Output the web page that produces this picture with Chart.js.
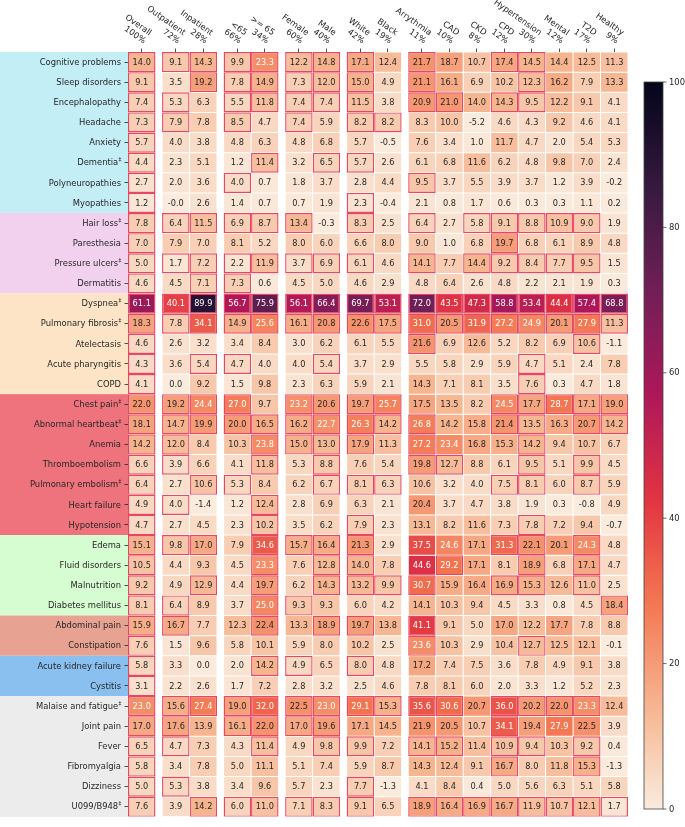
<!DOCTYPE html>
<html>
<head>
<meta charset="utf-8">
<script src="https://cdn.jsdelivr.net/npm/chart.js@4.4.1/dist/chart.umd.min.js"></script>
<style>
  html, body { margin: 0; padding: 0; background: #fff; }
</style>
</head>
<body>
<canvas id="heat" width="685" height="827"></canvas>
<script>
// ── Columns ───────────────────────────────────────────────
const columns = ["Overall", "Outpatient", "Inpatient", "<65", ">= 65", "Female", "Male",
  "White", "Black", "Arrythmia", "CAD", "CKD", "CPD", "Hypertension", "Mental", "T2D", "Healthy"];
const shares = ["100%", "72%", "28%", "66%", "34%", "60%", "40%", "42%", "19%",
  "11%", "10%", "8%", "12%", "30%", "12%", "17%", "9%"];
const columnGroups = [1, 2, 2, 2, 2, 8];

// ── Rows, by symptom group (values per row follow the column order) ──
const neuroLabels = ["Cognitive problems", "Sleep disorders", "Encephalopathy", "Headache",
  "Anxiety", "Dementia‡", "Polyneuropathies", "Myopathies"];
const neuroValues = [
  [14.0, 9.1, 14.3, 9.9, 23.3, 12.2, 14.8, 17.1, 12.4, 21.7, 18.7, 10.7, 17.4, 14.5, 14.4, 12.5, 11.3],
  [9.1, 3.5, 19.2, 7.8, 14.9, 7.3, 12.0, 15.0, 4.9, 21.1, 16.1, 6.9, 10.2, 12.3, 16.2, 7.9, 13.3],
  [7.4, 5.3, 6.3, 5.5, 11.8, 7.4, 7.4, 11.5, 3.8, 20.9, 21.0, 14.0, 14.3, 9.5, 12.2, 9.1, 4.1],
  [7.3, 7.9, 7.8, 8.5, 4.7, 7.4, 5.9, 8.2, 8.2, 8.3, 10.0, -5.2, 4.6, 4.3, 9.2, 4.6, 4.1],
  [5.7, 4.0, 3.8, 4.8, 6.3, 4.8, 6.8, 5.7, -0.5, 7.6, 3.4, 1.0, 11.7, 4.7, 2.0, 5.4, 5.3],
  [4.4, 2.3, 5.1, 1.2, 11.4, 3.2, 6.5, 5.7, 2.6, 6.1, 6.8, 11.6, 6.2, 4.8, 9.8, 7.0, 2.4],
  [2.7, 2.0, 3.6, 4.0, 0.7, 1.8, 3.7, 2.8, 4.4, 9.5, 3.7, 5.5, 3.9, 3.7, 1.2, 3.9, -0.2],
  [1.2, -0.0, 2.6, 1.4, 0.7, 0.7, 1.9, 2.3, -0.4, 2.1, 0.8, 1.7, 0.6, 0.3, 0.3, 1.1, 0.2],
];
const neuroSig = ["11111111010011000", "10111111010001000", "11011111011011000", "11010101100000000",
  "10000000000000000", "10001011000000000", "10010000010000000", "10000001000000000"];

const skinLabels = ["Hair loss‡", "Paresthesia", "Pressure ulcers‡", "Dermatitis"];
const skinValues = [
  [7.8, 6.4, 11.5, 6.9, 8.7, 13.4, -0.3, 8.3, 2.5, 6.4, 2.7, 5.8, 9.1, 8.8, 10.9, 9.0, 1.9],
  [7.0, 7.9, 7.0, 8.1, 5.2, 8.0, 6.0, 6.6, 8.0, 9.0, 1.0, 6.8, 19.7, 6.8, 6.1, 8.9, 4.8],
  [5.0, 1.7, 7.2, 2.2, 11.9, 3.7, 6.9, 6.1, 4.6, 14.1, 7.7, 14.4, 9.2, 8.4, 7.7, 9.5, 1.5],
  [4.6, 4.5, 7.1, 7.3, 0.6, 4.5, 5.0, 4.6, 2.9, 4.8, 6.4, 2.6, 4.8, 2.2, 2.1, 1.9, 0.3],
];
const skinSig = ["11111101010111110", "10000000000010000", "11111111010111110", "10110000000000000"];

const respLabels = ["Dyspnea‡", "Pulmonary fibrosis‡", "Atelectasis", "Acute pharyngitis", "COPD"];
const respValues = [
  [61.1, 40.1, 89.9, 56.7, 75.9, 56.1, 66.4, 69.7, 53.1, 72.0, 43.5, 47.3, 58.8, 53.4, 44.4, 57.4, 68.8],
  [18.3, 7.8, 34.1, 14.9, 25.6, 16.1, 20.8, 22.6, 17.5, 31.0, 20.5, 31.9, 27.2, 24.9, 20.1, 27.9, 11.3],
  [4.6, 2.6, 3.2, 3.4, 8.4, 3.0, 6.2, 6.1, 5.5, 21.6, 6.9, 12.6, 5.2, 8.2, 6.9, 10.6, -1.1],
  [4.3, 3.6, 5.4, 4.7, 4.0, 4.0, 5.4, 3.7, 2.9, 5.5, 5.8, 2.9, 5.9, 4.7, 5.1, 2.4, 7.8],
  [4.1, 0.0, 9.2, 1.5, 9.8, 2.3, 6.3, 5.9, 2.1, 14.3, 7.1, 8.1, 3.5, 7.6, 0.3, 4.7, 1.8],
];
const respSig = ["11111111111111111", "11111111111111111", "10000000010000010",
  "10110010000001000", "10000000000001000"];

const cardioLabels = ["Chest pain‡", "Abnormal heartbeat‡", "Anemia", "Thromboembolism",
  "Pulmonary embolism‡", "Heart failure", "Hypotension"];
const cardioValues = [
  [22.0, 19.2, 24.4, 27.0, 9.7, 23.2, 20.6, 19.7, 25.7, 17.5, 13.5, 8.2, 24.5, 17.7, 28.7, 17.1, 19.0],
  [18.1, 14.7, 19.9, 20.0, 16.5, 16.2, 22.7, 26.3, 14.2, 26.8, 14.2, 15.8, 21.4, 13.5, 16.3, 20.7, 14.2],
  [14.2, 12.0, 8.4, 10.3, 23.8, 15.0, 13.0, 17.9, 11.3, 27.2, 23.4, 16.8, 15.3, 14.2, 9.4, 10.7, 6.7],
  [6.6, 3.9, 6.6, 4.1, 11.8, 5.3, 8.8, 7.6, 5.4, 19.8, 12.7, 8.8, 6.1, 9.5, 5.1, 9.9, 4.5],
  [6.4, 2.7, 10.6, 5.3, 8.4, 6.2, 6.7, 8.1, 6.3, 10.6, 3.2, 4.0, 7.5, 8.1, 6.0, 8.7, 5.9],
  [4.9, 4.0, -1.4, 1.2, 12.4, 2.8, 6.9, 6.3, 2.1, 20.4, 3.7, 4.7, 3.8, 1.9, 0.3, -0.8, 4.9],
  [4.7, 2.7, 4.5, 2.3, 10.2, 3.5, 6.2, 7.9, 2.3, 13.1, 8.2, 11.6, 7.3, 7.8, 7.2, 9.4, -0.7],
];
const cardioSig = ["11110111100011111", "11111111110011011", "11001111010001000", "11001010011001010",
  "10110011100011010", "11001000000000000", "10001001000001000"];

const fluidLabels = ["Edema", "Fluid disorders", "Malnutrition", "Diabetes mellitus"];
const fluidValues = [
  [15.1, 9.8, 17.0, 7.9, 34.6, 15.7, 16.4, 21.3, 2.9, 37.5, 24.6, 17.1, 31.3, 22.1, 20.1, 24.3, 4.8],
  [10.5, 4.4, 9.3, 4.5, 23.3, 7.6, 12.8, 14.0, 7.8, 44.6, 29.2, 17.1, 8.1, 18.9, 6.8, 17.1, 4.7],
  [9.2, 4.9, 12.9, 4.4, 19.7, 6.2, 14.3, 13.2, 9.9, 30.7, 15.9, 16.4, 16.9, 15.3, 12.6, 11.0, 2.5],
  [8.1, 6.4, 8.9, 3.7, 25.0, 9.3, 9.3, 6.0, 4.2, 14.1, 10.3, 9.4, 4.5, 3.3, 0.8, 4.5, 18.4],
];
const fluidSig = ["11101111000011010", "10001011001001010", "10101011110011010", "11001100000000001"];

const gastroLabels = ["Abdominal pain", "Constipation"];
const gastroValues = [
  [15.9, 16.7, 7.7, 12.3, 22.4, 13.3, 18.9, 19.7, 13.8, 41.1, 9.1, 5.0, 17.0, 12.2, 17.7, 7.8, 8.8],
  [7.6, 1.5, 9.6, 5.8, 10.1, 5.9, 8.0, 10.2, 2.5, 23.6, 10.3, 2.9, 10.4, 12.7, 12.5, 12.1, -0.1],
];
const gastroSig = ["11001011010000000", "10000000010001000"];

const renalLabels = ["Acute kidney failure", "Cystitis"];
const renalValues = [
  [5.8, 3.3, 0.0, 2.0, 14.2, 4.9, 6.5, 8.0, 4.8, 17.2, 7.4, 7.5, 3.6, 7.8, 4.9, 9.1, 3.8],
  [3.1, 2.2, 2.6, 1.7, 7.2, 2.8, 3.2, 2.5, 4.6, 7.8, 8.1, 6.0, 2.0, 3.3, 1.2, 5.2, 2.3],
];
const renalSig = ["10001101000000000", "10000000000000000"];

const generalLabels = ["Malaise and fatigue‡", "Joint pain", "Fever", "Fibromyalgia", "Dizziness", "U099/B948‡"];
const generalValues = [
  [23.0, 15.6, 27.4, 19.0, 32.0, 22.5, 23.0, 29.1, 15.3, 35.6, 30.6, 20.7, 36.0, 20.2, 22.0, 23.3, 12.4],
  [17.0, 17.6, 13.9, 16.1, 22.0, 17.0, 19.6, 17.1, 14.5, 21.9, 20.5, 10.7, 34.1, 19.4, 27.9, 22.5, 3.9],
  [6.5, 4.7, 7.3, 4.3, 11.4, 4.9, 9.8, 9.9, 7.2, 14.1, 15.2, 11.4, 10.9, 9.4, 10.3, 9.2, 0.4],
  [5.8, 3.4, 7.8, 5.0, 11.1, 5.1, 7.4, 5.9, 8.7, 14.3, 12.4, 9.1, 16.7, 8.0, 11.8, 15.3, -1.3],
  [5.0, 5.3, 3.8, 3.4, 9.6, 5.7, 2.3, 7.7, -1.3, 4.1, 8.4, 0.4, 5.0, 5.6, 6.3, 5.1, 5.8],
  [7.6, 3.9, 14.2, 6.0, 11.0, 7.1, 8.3, 9.1, 6.5, 18.9, 16.4, 16.9, 16.7, 11.9, 10.7, 12.1, 1.7],
];
const generalSig = ["11111111111011110", "11011110000010000", "11001011011011010",
  "10000000000010010", "11000001000000000", "10111111011111111"];

const colorbarTicks = [0, 20, 40, 60, 80, 100];

// ── Styling ───────────────────────────────────────────────
const TEXT = "#262626";
const FONT = '"DejaVu Sans", sans-serif';
const SIG_COLOR = "rgba(228, 38, 72, 0.85)";
const GAP = 0.24; // gap between column groups, in cell widths

const rowGroups = [
  { labels: neuroLabels, values: neuroValues, sig: neuroSig, color: "#c4eef6" },
  { labels: skinLabels, values: skinValues, sig: skinSig, color: "#f2d1ee" },
  { labels: respLabels, values: respValues, sig: respSig, color: "#fee4c6" },
  { labels: cardioLabels, values: cardioValues, sig: cardioSig, color: "#ee737d" },
  { labels: fluidLabels, values: fluidValues, sig: fluidSig, color: "#d6fdd1" },
  { labels: gastroLabels, values: gastroValues, sig: gastroSig, color: "#e8a292" },
  { labels: renalLabels, values: renalValues, sig: renalSig, color: "#89c0ef" },
  { labels: generalLabels, values: generalValues, sig: generalSig, color: "#ececec" },
];
const rowLabels = rowGroups.flatMap((g) => g.labels);
const values = rowGroups.flatMap((g) => g.values);
const sig = rowGroups.flatMap((g) => g.sig);

// column offsets on the linear x scale
const colStart = [];
(function () {
  let x = 0;
  columnGroups.forEach((n, g) => {
    if (g) x += GAP;
    for (let k = 0; k < n; k++) { colStart.push(x); x += 1; }
  });
})();
const xMax = colStart[colStart.length - 1] + 1;

// rocket_r, 0..100
const ROCKET_R = [
  [0, [250, 235, 221]], [1 / 7, [246, 180, 143]], [2 / 7, [243, 118, 81]], [3 / 7, [225, 51, 66]],
  [4 / 7, [173, 23, 89]], [5 / 7, [112, 31, 87]], [6 / 7, [53, 25, 62]], [1, [3, 5, 26]],
];
function rocketR(v) {
  const t = Math.min(1, Math.max(0, v / 100));
  for (let i = 1; i < ROCKET_R.length; i++) {
    const [t1, c1] = ROCKET_R[i];
    const [t0, c0] = ROCKET_R[i - 1];
    if (t <= t1) {
      const f = (t - t0) / (t1 - t0);
      const c = c0.map((a, k) => Math.round(a + (c1[k] - a) * f));
      return `rgb(${c[0]},${c[1]},${c[2]})`;
    }
  }
  return "rgb(3,5,26)";
}
const fmt = (v) => (Object.is(v, -0) ? "-0.0" : v.toFixed(1));

// ── Plugins ───────────────────────────────────────────────
const bandsAndLabels = {
  id: "bandsAndLabels",
  beforeDraw(chart) {
    const { ctx, scales: { y }, chartArea } = chart;
    const half = (y.getPixelForValue(1) - y.getPixelForValue(0)) / 2;
    let i = 0;
    ctx.save();
    rowGroups.forEach((g) => {
      const top = y.getPixelForValue(i) - half;
      const bottom = y.getPixelForValue(i + g.labels.length - 1) + half;
      ctx.fillStyle = g.color;
      ctx.fillRect(0, top, chartArea.left, bottom - top);
      i += g.labels.length;
    });
    ctx.restore();
  },
  afterDraw(chart) {
    const { ctx, scales: { y }, chartArea } = chart;
    const right = chartArea.left - 7;
    ctx.save();
    ctx.fillStyle = TEXT;
    ctx.textBaseline = "middle";
    rowLabels.forEach((label, i) => {
      const py = y.getPixelForValue(i);
      const dagger = label.endsWith("‡");
      const text = dagger ? label.slice(0, -1) : label;
      let end = right;
      if (dagger) {
        ctx.font = "5.6px " + FONT;
        ctx.textAlign = "left";
        const w = ctx.measureText("‡").width;
        end = right - w;
        ctx.fillText("‡", end + 0.3, py - 3);
      }
      ctx.font = "8.4px " + FONT;
      ctx.textAlign = "right";
      ctx.fillText(text, end, py + 0.5);
    });
    ctx.restore();
  },
};

const header = {
  id: "header",
  afterDraw(chart) {
    const { ctx, scales: { x }, chartArea } = chart;
    ctx.save();
    ctx.font = "8.4px " + FONT;
    ctx.fillStyle = TEXT;
    ctx.textAlign = "right";
    ctx.textBaseline = "middle";
    columns.forEach((name, c) => {
      const px = x.getPixelForValue(colStart[c] + 0.5);
      ctx.save();
      ctx.translate(px + 3, chartArea.top - 10);
      ctx.rotate((35 * Math.PI) / 180);
      ctx.fillText(shares[c], 0, 0);
      ctx.fillText(name, 0, -10);
      ctx.restore();
    });
    ctx.restore();
  },
};

const cellText = {
  id: "cellText",
  afterDatasetsDraw(chart) {
    const { ctx } = chart;
    ctx.save();
    ctx.font = "8.2px " + FONT;
    ctx.textAlign = "center";
    ctx.textBaseline = "middle";
    chart.data.datasets.forEach((ds, c) => {
      chart.getDatasetMeta(c).data.forEach((bar, r) => {
        const { x, base, y } = bar.getProps(["x", "base", "y"], true);
        const v = values[r][c];
        ctx.fillStyle = v >= 22.65 ? "#ffffff" : TEXT;
        ctx.fillText(fmt(v), (x + base) / 2, y + 0.5);
      });
    });
    ctx.restore();
  },
};

const colorbar = {
  id: "colorbar",
  afterDraw(chart) {
    const { ctx } = chart;
    const left = 644, width = 19, top = 82, bottom = 809;
    const grad = ctx.createLinearGradient(0, bottom, 0, top);
    for (let k = 0; k <= 50; k++) grad.addColorStop(k / 50, rocketR(k * 2));
    ctx.save();
    ctx.fillStyle = grad;
    ctx.fillRect(left, top, width, bottom - top);
    ctx.strokeStyle = "#444";
    ctx.lineWidth = 0.8;
    ctx.strokeRect(left, top, width, bottom - top);
    ctx.fillStyle = TEXT;
    ctx.font = "8.4px " + FONT;
    ctx.textAlign = "left";
    ctx.textBaseline = "middle";
    colorbarTicks.forEach((t) => {
      const py = bottom - (t / 100) * (bottom - top);
      ctx.beginPath();
      ctx.moveTo(left + width, py);
      ctx.lineTo(left + width + 3.5, py);
      ctx.stroke();
      ctx.fillText(String(t), left + width + 6, py + 0.5);
    });
    ctx.restore();
  },
};

// ── Chart ─────────────────────────────────────────────────
const datasets = columns.map((name, c) => ({
  label: name,
  data: rowLabels.map(() => [colStart[c], colStart[c] + 1]),
  backgroundColor: values.map((row) => rocketR(row[c])),
  borderColor: sig.map((s) => (s[c] === "1" ? SIG_COLOR : "rgba(255,255,255,0.6)")),
  borderWidth: sig.map((s) => (s[c] === "1" ? 1.4 : 0.5)),
  borderSkipped: false,
  inflateAmount: 0,
  grouped: false,
  barPercentage: 1,
  categoryPercentage: 1,
}));

new Chart(document.getElementById("heat"), {
  type: "bar",
  data: { labels: rowLabels, datasets },
  options: {
    indexAxis: "y",
    responsive: false,
    animation: false,
    devicePixelRatio: 1,
    layout: { padding: { top: 0, right: 57, bottom: 0, left: 0 } },
    plugins: { legend: { display: false }, tooltip: { enabled: false } },
    scales: {
      x: {
        type: "linear",
        position: "top",
        min: 0,
        max: xMax,
        afterFit: (s) => { s.height = 52; },
        afterBuildTicks: (s) => { s.ticks = colStart.map((v) => ({ value: v + 0.5 })); },
        ticks: { callback: () => "", autoSkip: false, padding: 0 },
        grid: { drawOnChartArea: false, tickLength: 3.5, color: TEXT, lineWidth: 0.8 },
        border: { display: false },
      },
      y: {
        type: "category",
        afterFit: (s) => { s.width = 128; },
        ticks: { callback: () => "", autoSkip: false },
        grid: { offset: false, drawOnChartArea: false, tickLength: 3.5, color: TEXT, lineWidth: 0.8 },
        border: { display: false },
      },
    },
  },
  plugins: [bandsAndLabels, header, cellText, colorbar],
});
</script>
</body>
</html>
